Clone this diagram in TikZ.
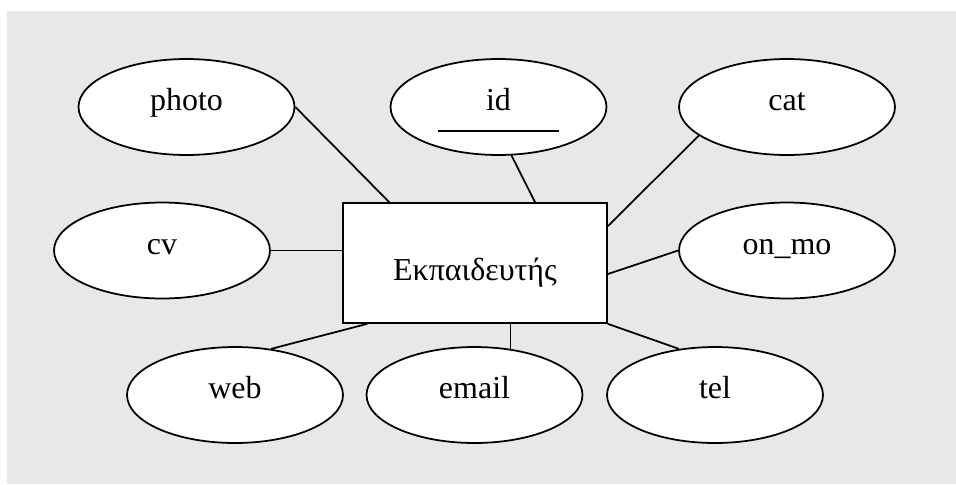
\documentclass[tikz,border=0pt]{standalone}
\usepackage{fontspec}
\setmainfont{Liberation Serif}
\usetikzlibrary{shapes.geometric,calc}
\definecolor{bggray}{RGB}{232,232,232}

\begin{document}
\begin{tikzpicture}[x=0.02cm,y=-0.02cm,line width=1pt,
  font=\fontsize{18.2pt}{22pt}\selectfont,
  attr/.style={ellipse,draw,fill=white,inner sep=0pt,minimum width=4.32cm,
    minimum height=1.92cm,text height=0.6em,text depth=0.2em},
  entity/.style={rectangle,draw,fill=white,minimum width=5.28cm,minimum height=2.4cm}]

\useasboundingbox (0,0) rectangle (956,484);
\fill[bggray] (7,11) rectangle (956,484);

\node[entity] (ent) at (475,263) {};
\node[anchor=base] (entname) at ($(ent.center)+(0,17)$) {Εκπαιδευτής};

\node[attr] (photo) at (186.5,107) {photo};
\node[attr] (id) at (498.5,107) {id};
\node[attr] (cat) at (787,107) {cat};
\node[attr] (cv) at (162,250.5) {cv};
\node[attr] (onmo) at (787,250.5) {on\_mo};
\node[attr] (web) at (235,395) {web};
\node[attr] (email) at (474.5,395) {email};
\node[attr] (tel) at (715,395) {tel};

% key underline
\draw ($(id)+(-61,24)$) -- ($(id)+(60,24)$);

\draw (photo.east) -- ($(ent.north west)+(47,0)$);
\draw (id.-75) -- ($(ent.north)+(60,0)$);
\draw (cat.198) -- ($(ent.north east)+(0,24)$);
\draw (cv.east) -- (cv.east -| ent.west);
\draw (onmo.west) -- ($(ent.east)+(0,11)$);
\draw (web.52) -- ($(ent.south west)+(25,0)$);
\draw (email.52) -- (email.52 |- ent.south);
\draw (tel.128) -- (ent.south east);

\end{tikzpicture}
\end{document}
